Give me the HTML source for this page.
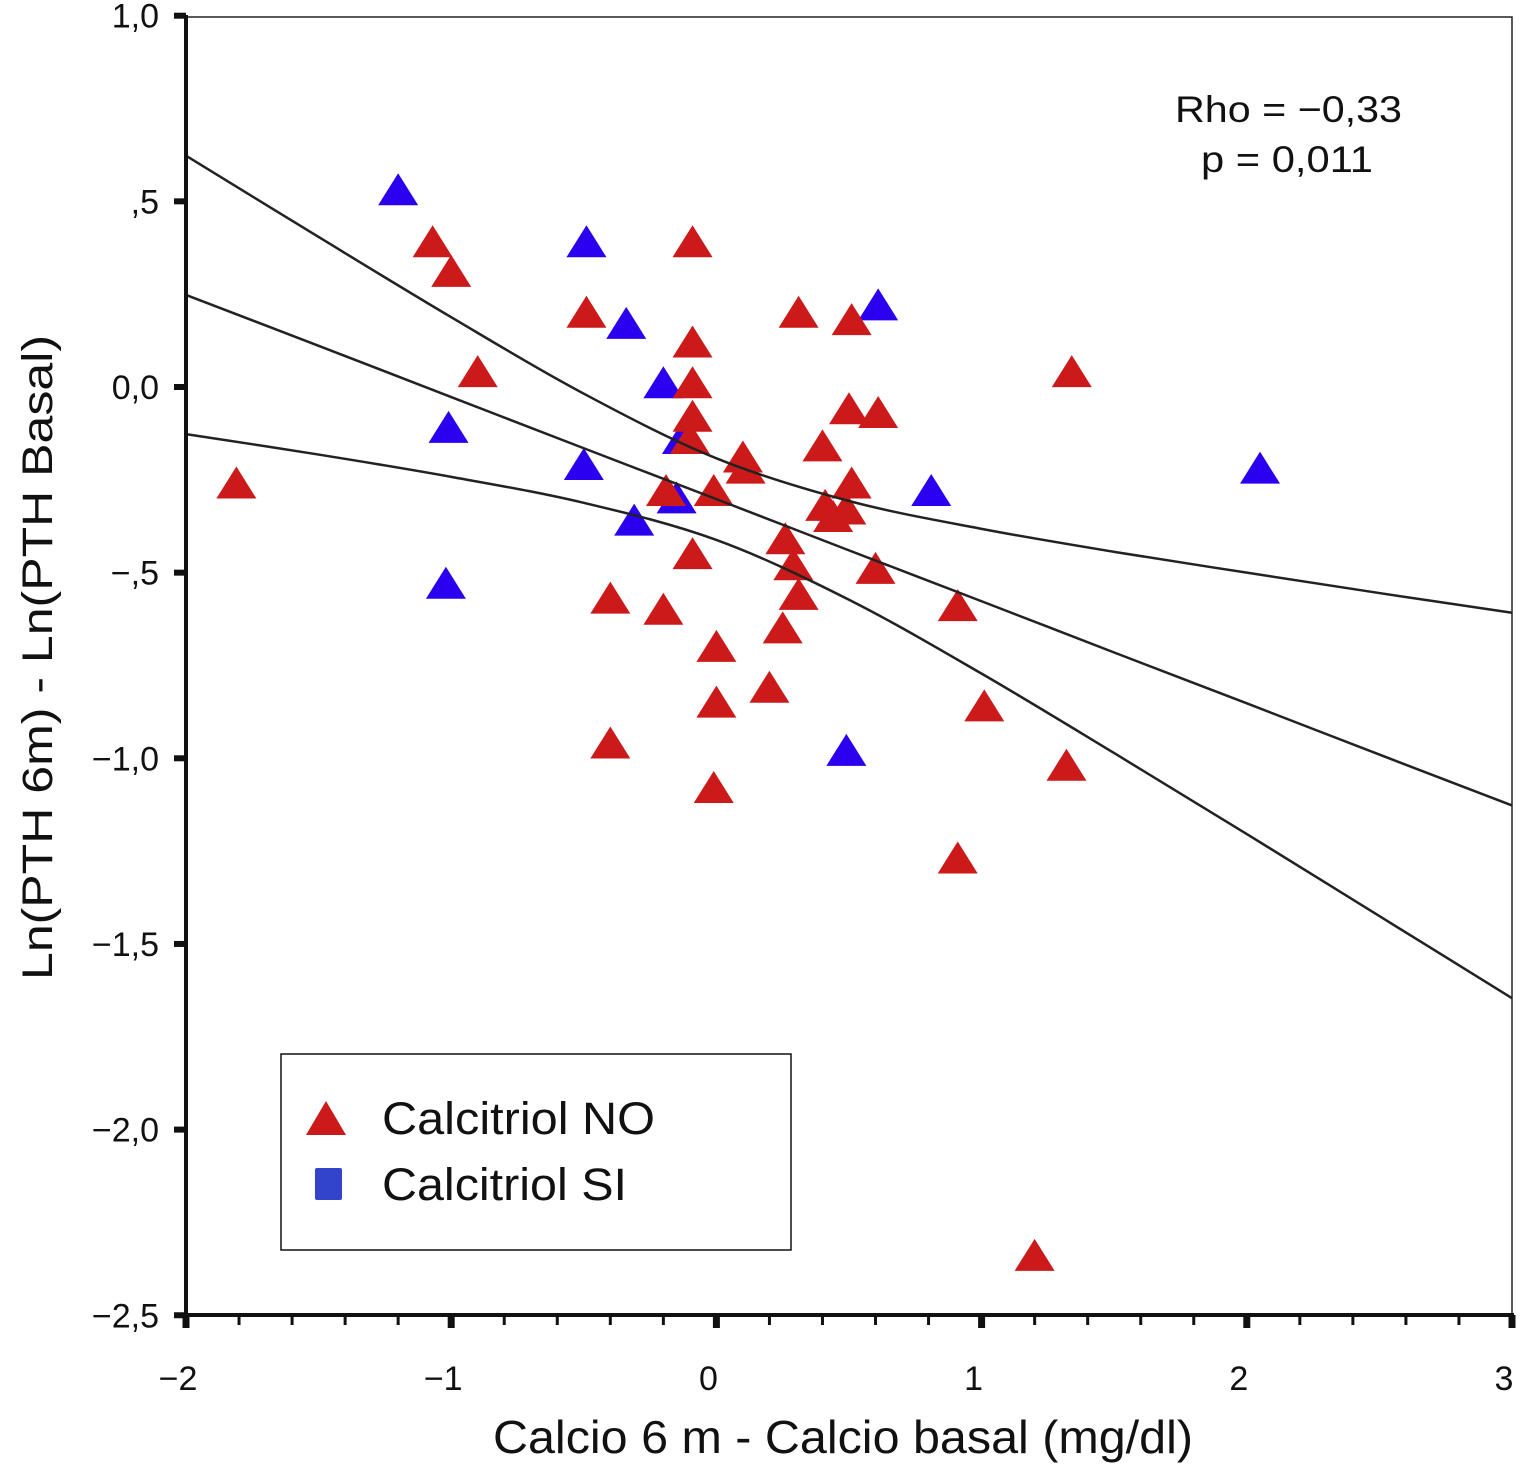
<!DOCTYPE html>
<html><head><meta charset="utf-8"><style>
body{margin:0;background:#fff;}
svg text{font-family:"Liberation Sans",Arial,sans-serif;fill:#111;}
</style></head><body>
<svg id="chart" width="1520" height="1465" viewBox="0 0 1520 1465" xmlns="http://www.w3.org/2000/svg">
<g id="marks"></g>
<g id="lines"></g>
<g id="axes"></g>
<text x="1175" y="122" font-size="37" textLength="227" lengthAdjust="spacingAndGlyphs">Rho = −0,33</text>
<text x="1201" y="172" font-size="37" textLength="172" lengthAdjust="spacingAndGlyphs">p = 0,011</text>
<text x="493" y="1453" font-size="46" textLength="700" lengthAdjust="spacingAndGlyphs">Calcio 6 m - Calcio basal (mg/dl)</text>
<text transform="translate(52,980) rotate(-90)" font-size="43" textLength="645" lengthAdjust="spacingAndGlyphs">Ln(PTH 6m) - Ln(PTH Basal)</text>
<g>
<rect x="281" y="1054" width="510" height="196" fill="#fff" stroke="#111" stroke-width="1.5"/>
<polygon points="326,1101 306,1135 346,1135" fill="#cc1a1a"/>
<text x="382" y="1134" font-size="45" textLength="273" lengthAdjust="spacingAndGlyphs">Calcitriol NO</text>
<rect x="315" y="1168" width="27" height="32" rx="2" fill="#3344cc"/>
<text x="382" y="1200" font-size="45" textLength="245" lengthAdjust="spacingAndGlyphs">Calcitriol SI</text>
</g>
</svg>
<script>
const redX=[-1.81,-1.07,-1.00,-0.90,-0.49,-0.40,-0.40,-0.20,-0.19,-0.09,-0.09,-0.09,-0.09,-0.10,-0.09,-0.01,0.00,0.00,-0.01,0.10,0.11,0.20,0.25,0.26,0.29,0.31,0.31,0.40,0.41,0.44,0.49,0.51,0.51,0.50,0.61,0.60,0.91,0.91,1.01,1.20,1.32,1.34];
const redY=[-0.26,0.39,0.31,0.04,0.20,-0.57,-0.96,-0.60,-0.28,0.39,0.12,0.01,-0.08,-0.14,-0.45,-0.28,-0.70,-0.85,-1.08,-0.19,-0.22,-0.81,-0.65,-0.41,-0.48,-0.56,0.20,-0.16,-0.32,-0.35,-0.33,-0.26,0.18,-0.06,-0.07,-0.49,-0.59,-1.27,-0.86,-2.34,-1.02,0.04];
const blueX=[-1.20,-0.49,-0.34,-0.20,-1.01,-0.50,-0.31,-0.15,-0.13,-1.02,0.61,0.81,0.49,2.05];
const blueY=[0.53,0.39,0.17,0.01,-0.11,-0.21,-0.36,-0.30,-0.14,-0.53,0.22,-0.28,-0.98,-0.22];
const lineXs=[-2,-1.5,-1,-0.5,0,0.5,1,1.5,2,2.5,3];
const fitY=[0.248,0.111,-0.027,-0.165,-0.302,-0.440,-0.577,-0.715,-0.852,-0.990,-1.127];
const ciUpperY=[0.623,0.404,0.188,-0.018,-0.192,-0.307,-0.382,-0.444,-0.500,-0.555,-0.608];
const ciLowerY=[-0.127,-0.182,-0.242,-0.312,-0.412,-0.573,-0.772,-0.986,-1.204,-1.425,-1.646];
const xTicks=[-2,-1,0,1,2,3];
const xTickLabels=["−2","−1","0","1","2","3"];
const yTicks=[1,0.5,0,-0.5,-1,-1.5,-2,-2.5];
const yTickLabels=["1,0",",5","0,0","−,5","−1,0","−1,5","−2,0","−2,5"];
const NS="http://www.w3.org/2000/svg";
const sx=v=>186+(v+2)*265.2;
const sy=v=>387-v*371.3;
function mk(t,a,p){const e=document.createElementNS(NS,t);for(const k in a)e.setAttribute(k,a[k]);p.appendChild(e);return e;}
const marks=document.getElementById('marks');
function tri(x,y,col,name){const cx=sx(x),cy=sy(y);
const p=mk('polygon',{points:`${cx},${cy-17} ${cx-20},${cy+15} ${cx+20},${cy+15}`,fill:col},marks);

}
blueX.forEach((x,i)=>tri(x,blueY[i],'#2a00ee','point-calcitriol-si'));
redX.forEach((x,i)=>tri(x,redY[i],'#cc1a1a','point-calcitriol-no'));
const lines=document.getElementById('lines');
function smoothPath(ys){const pts=lineXs.map((x,i)=>[sx(x),sy(ys[i])]);
let d='M'+pts[0][0]+','+pts[0][1];
for(let i=0;i<pts.length-1;i++){const p0=pts[i-1]||pts[i],p1=pts[i],p2=pts[i+1],p3=pts[i+2]||p2;
const c1=[p1[0]+(p2[0]-p0[0])/6,p1[1]+(p2[1]-p0[1])/6],c2=[p2[0]-(p3[0]-p1[0])/6,p2[1]-(p3[1]-p1[1])/6];
d+=` C${c1[0]},${c1[1]} ${c2[0]},${c2[1]} ${p2[0]},${p2[1]}`;}
return d;}
[[fitY,'regression-line'],[ciUpperY,'ci-band-upper'],[ciLowerY,'ci-band-lower']].forEach(([ys,n])=>{
const pl=mk('path',{d:smoothPath(ys),fill:'none',stroke:'#222','stroke-width':2.5},lines);

});
const ax=document.getElementById('axes');
const fr=mk('rect',{x:186,y:17,width:1326,height:1298,fill:'none',stroke:'#222','stroke-width':1.5},ax);


const la=mk('line',{x1:186,y1:15,x2:186,y2:1316,stroke:'#111','stroke-width':4},ax);


const ba=mk('line',{x1:184,y1:1315,x2:1514,y2:1315,stroke:'#111','stroke-width':4},ax);


for(let v=-2;v<=3.001;v+=0.2){const X=sx(v);const major=Math.abs(v-Math.round(v))<0.01;
const t=mk('line',{x1:X,y1:1315,x2:X,y2:major?1328:1325,stroke:'#111','stroke-width':major?7:3},ax);

}
xTicks.forEach((v,i)=>{const t=mk('text',{x:sx(v)-8,y:1390,'font-size':34,'text-anchor':'middle'},ax);t.textContent=xTickLabels[i];

});
yTicks.forEach((v,i)=>{const Y=sy(v);
const t=mk('line',{x1:174,y1:Y,x2:186,y2:Y,stroke:'#111','stroke-width':6},ax);


const l=mk('text',{x:159,y:Y+12,'font-size':34,'text-anchor':'end'},ax);l.textContent=yTickLabels[i];

});
</script>
</body></html>
